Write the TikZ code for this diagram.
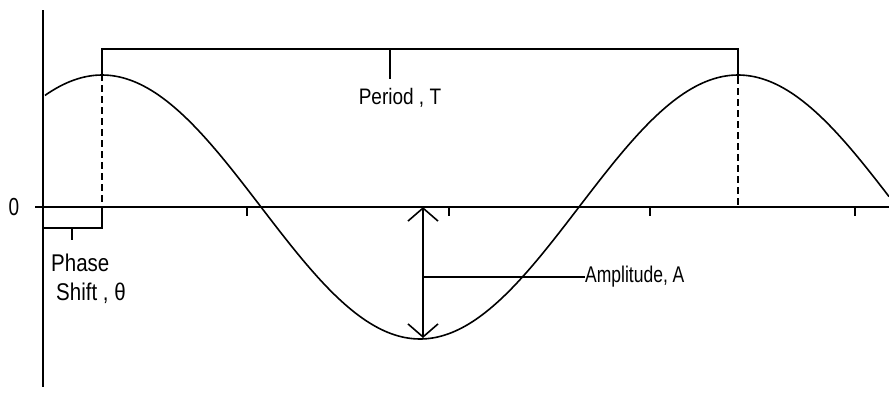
\documentclass[tikz,border=0pt]{standalone}
\usepackage{fontspec}
\setmainfont{Liberation Sans}
\usetikzlibrary{arrows.meta}
\begin{document}
\begin{tikzpicture}[x=1pt,y=-1pt,
  axisline/.style={line width=2pt},
  brk/.style={line width=2pt},
  dashline/.style={line width=2pt,dash pattern=on 7pt off 4pt},
  curveline/.style={line width=1.6pt},
  tickline/.style={line width=1.6pt},
  lbl/.style={inner sep=0pt,transform shape,yscale=1.18,font=\fontsize{19}{21}\selectfont},
  amparrow/.style={line width=1.6pt,{Straight Barb[length=13pt,width=30pt]}-{Straight Barb[length=13pt,width=30pt]}}]
\useasboundingbox (0,0) rectangle (889,394);
% axes
\coordinate (yt) at (43,10);
\coordinate (yb) at (43,387);
\coordinate (xl) at (35,207);
\coordinate (xr) at (889,207);
\draw[axisline] (yt) -- (yb);
\draw[axisline] (xl) -- (xr);
\node[lbl,yscale=1.1] (zero) at (14,207) {0};
% axis ticks
\foreach \t in {247,449,650,855}{
  \draw[tickline] (\t,207) -- (\t,216);
}
% sine curve
\draw[curveline] plot[domain=45:889,samples=240] (\x,{207-132*cos(((\x-102)/636)*360)});
% period bracket
\coordinate (pl) at (102,74);
\coordinate (pr) at (738,77);
\coordinate (plt) at (102,49);
\coordinate (prt) at (738,49);
\coordinate (plb) at (102,207);
\coordinate (prb) at (738,207);
\draw[brk] (pl) -- (plt) -- (prt) -- (pr);
\draw[dashline] (pl) -- (plb);
\draw[dashline] (pr) -- (prb);
\coordinate (ptt) at (390,49);
\coordinate (ptb) at (390,79);
\draw[tickline] (ptt) -- (ptb);
\node[lbl] (period) at (400,98) {Period , T};
% phase shift bracket
\coordinate (phl) at (43,228);
\coordinate (phr) at (102,228);
\draw[brk] (phl) -- (phr) -- (plb);
\coordinate (pht) at (72,228);
\coordinate (phb) at (72,240);
\draw[tickline] (pht) -- (phb);
\node[lbl,anchor=west,font=\fontsize{20.5}{22}\selectfont] (phase) at (51,263) {Phase};
\node[lbl,anchor=west,font=\fontsize{20.5}{22}\selectfont] (shift) at (56,293) {Shift , θ};
% amplitude
\coordinate (at) at (423,207);
\coordinate (ab) at (423,338);
\draw[amparrow] (at) -- (ab);
\coordinate (am) at (423,277);
\node[lbl,anchor=west,yscale=1.1,font=\fontsize{17.5}{20}\selectfont] (amp) at (585,277) {Amplitude, A};
\draw[tickline] (am) -- (amp.west);
\end{tikzpicture}
\end{document}
